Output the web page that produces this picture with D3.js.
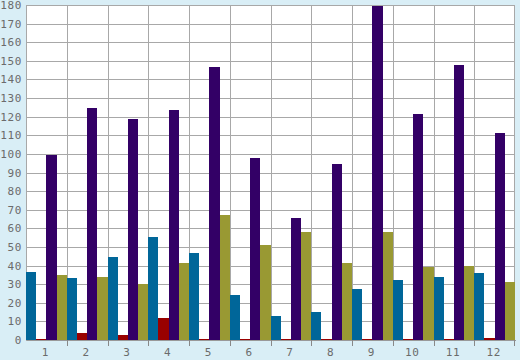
<!DOCTYPE html>
<html>
<head>
<meta charset="utf-8">
<script src="https://cdn.jsdelivr.net/npm/d3@7"></script>
<style>
  body { margin: 0; background: #d9eef6; }
  svg { display: block; }
  .tick text { font-family: "DejaVu Sans Mono", monospace; font-size: 11px; letter-spacing: 0.6px; fill: #6b6b6b; }
</style>
</head>
<body>
<div id="chart"></div>
<script>
// categories and series
const categories = ['1', '2', '3', '4', '5', '6', '7', '8', '9', '10', '11', '12'];
const seriesNames = ['teal', 'red', 'purple', 'olive'];
const tealValues = [36.5, 33.3, 44.6, 55.4, 46.9, 24.2, 12.9, 15, 27.4, 32.3, 33.9, 36];
const redValues = [0.6, 3.8, 2.8, 11.8, 0.8, 0.6, 0.6, 0.6, 0.6, 0.6, 0.6, 1.3];
const purpleValues = [99.4, 124.7, 118.8, 123.7, 146.8, 97.8, 65.6, 94.6, 179.2, 121.5, 147.8, 111.2];
const oliveValues = [34.9, 33.9, 30.1, 41.4, 67.2, 51.1, 58, 41.4, 58, 39.2, 40, 31.2];
const yTicks = d3.range(0, 181, 10);

const colors = { teal: '#006699', red: '#990000', purple: '#330066', olive: '#999933' };
const values = { teal: tealValues, red: redValues, purple: purpleValues, olive: oliveValues };

const width = 520, height = 360;
const margin = { top: 5, right: 5, bottom: 20, left: 26 };

const svg = d3.select('#chart').append('svg')
    .attr('width', width)
    .attr('height', height);

const x = d3.scaleBand().domain(categories).range([margin.left, width - margin.right]).padding(0);
const xs = d3.scaleBand().domain(seriesNames).range([0, x.bandwidth()]).padding(0);
const y = d3.scaleLinear().domain([0, 180]).range([height - margin.bottom, margin.top]);

// plot background
svg.append('rect')
    .attr('x', margin.left)
    .attr('y', margin.top)
    .attr('width', width - margin.left - margin.right)
    .attr('height', height - margin.top - margin.bottom)
    .attr('fill', '#ffffff');

const grid = svg.append('g')
    .attr('stroke', '#a8a8a8')
    .attr('shape-rendering', 'crispEdges');

grid.selectAll('line.h')
    .data(yTicks)
    .enter().append('line')
    .attr('class', 'h')
    .attr('x1', margin.left)
    .attr('x2', width - margin.right)
    .attr('y1', d => Math.round(y(d)) + 0.5)
    .attr('y2', d => Math.round(y(d)) + 0.5);

grid.selectAll('line.v')
    .data(categories.concat(['end']))
    .enter().append('line')
    .attr('class', 'v')
    .attr('x1', d => Math.round(d === 'end' ? x.range()[1] - 1 : x(d)) + 0.5)
    .attr('x2', d => Math.round(d === 'end' ? x.range()[1] - 1 : x(d)) + 0.5)
    .attr('y1', margin.top)
    .attr('y2', height - margin.bottom);

// bars
const groups = svg.append('g')
    .attr('shape-rendering', 'crispEdges')
    .selectAll('g')
    .data(categories)
    .enter().append('g')
    .attr('transform', d => `translate(${x(d)},0)`);

groups.selectAll('rect')
    .data((d, i) => seriesNames.map(s => ({ s, v: values[s][i] })))
    .enter().append('rect')
    .attr('x', d => xs(d.s))
    .attr('width', xs.bandwidth())
    .attr('y', d => y(d.v))
    .attr('height', d => y(0) - y(d.v))
    .attr('fill', d => colors[d.s]);

// axes
const yAxis = svg.append('g')
    .attr('transform', `translate(${margin.left},0)`)
    .call(d3.axisLeft(y).tickValues(yTicks).tickSize(0).tickPadding(4));
yAxis.select('.domain').remove();

const xAxis = svg.append('g')
    .attr('transform', `translate(0,${height - margin.bottom})`)
    .attr('shape-rendering', 'crispEdges')
    .call(d3.axisBottom(x).tickSize(0).tickPadding(8));
xAxis.select('.domain').attr('stroke', '#999999');
xAxis.selectAll('.tick text').attr('dx', '-1');

// ticks at band boundaries
xAxis.selectAll('line.sep')
    .data(categories.slice(1).concat(['end']))
    .enter().append('line')
    .attr('class', 'sep')
    .attr('stroke', '#888888')
    .attr('x1', d => Math.round(d === 'end' ? x.range()[1] - 1 : x(d)) + 0.5)
    .attr('x2', d => Math.round(d === 'end' ? x.range()[1] - 1 : x(d)) + 0.5)
    .attr('y1', 0)
    .attr('y2', 6);
</script>
</body>
</html>
